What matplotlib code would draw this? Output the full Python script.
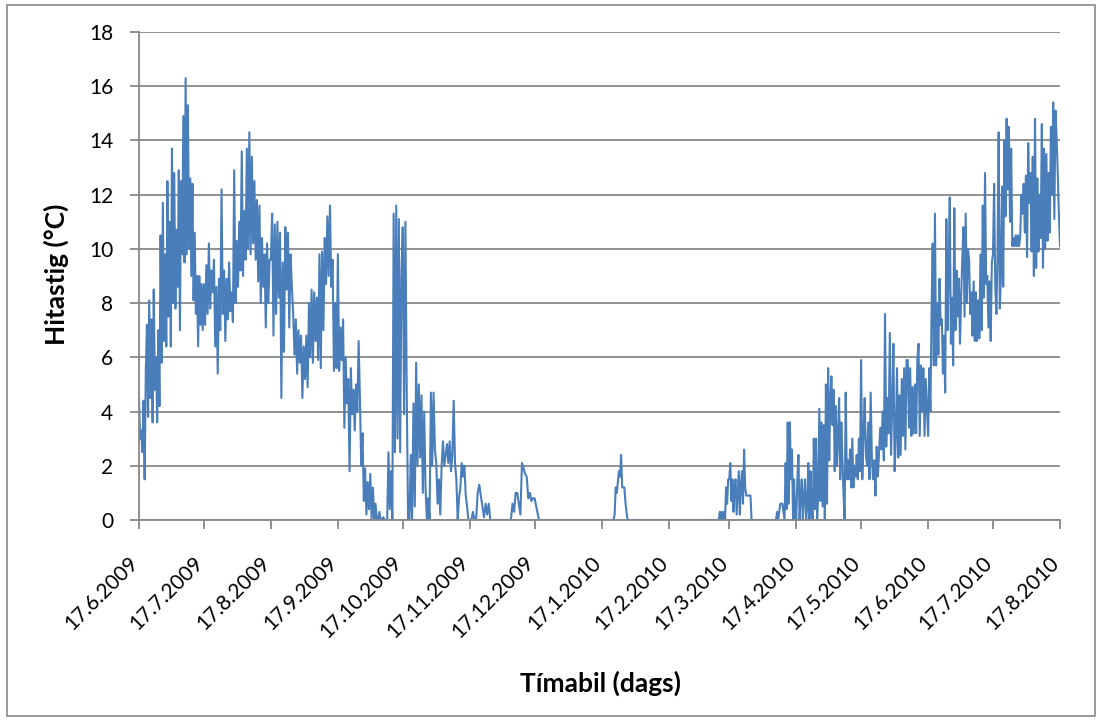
import datetime as dt
import numpy as np
import matplotlib
matplotlib.use("Agg")
import matplotlib.pyplot as plt
import matplotlib.dates as mdates
import matplotlib.transforms as mtransforms
from matplotlib.patches import Rectangle

plt.rcParams['font.family'] = ['Lato', 'DejaVu Sans']

# month boundaries (the 17th of each month)
month_starts = [dt.datetime(2009, m, 17) for m in range(6, 13)] + \
               [dt.datetime(2010, m, 17) for m in range(1, 9)]

# temperature readings per month
jun09 = [4.5, 3.0, 3.3, 2.5, 4.4, 1.5, 5.5, 7.2, 3.8, 8.1, 4.5, 7.4, 3.6, 8.5, 4.8, 6.0, 3.6, 7.0,
         4.2, 10.5, 5.8, 11.7, 6.6, 9.8, 6.4, 12.5, 7.5, 11.0, 6.4, 13.7, 8.0, 12.8, 7.8, 10.7, 8.6,
         12.9, 7.0, 12.5, 9.8, 14.9, 9.5, 16.3, 9.8, 15.3, 10.0, 12.6, 9.0, 12.4, 8.1, 10.6, 7.6,
         9.0, 6.4, 9.0, 7.2, 8.7, 7.0]
jul09 = [8.7, 7.2, 9.4, 7.6, 10.2, 7.8, 9.2, 8.4, 9.6, 6.4, 8.6, 5.4, 8.9, 7.0, 12.2, 7.6, 9.2,
         6.6, 8.9, 7.4, 9.5, 7.7, 8.4, 7.3, 12.9, 8.0, 10.3, 8.6, 11.0, 9.2, 13.6, 9.0, 11.4, 9.6,
         13.7, 10.0, 14.3, 9.8, 13.4, 10.2, 12.5, 9.6, 11.8, 8.8, 11.6, 8.0, 10.4, 8.6, 9.8, 7.1,
         10.2, 8.0, 9.6]
aug09 = [9.6, 11.3, 6.8, 10.9, 7.6, 11.0, 8.2, 10.6, 4.5, 9.5, 6.2, 10.8, 8.5, 10.6, 7.1, 9.8,
         8.6, 7.6, 6.1, 7.4, 5.4, 7.0, 5.8, 6.8, 4.5, 6.4, 5.2, 6.8, 4.9, 8.0, 6.0, 8.5, 5.8, 8.4,
         6.6, 8.2, 5.9, 9.8, 5.6, 9.9, 7.0, 10.4, 8.7, 11.2, 9.0, 11.6, 8.6, 9.6, 5.5, 8.0, 5.6]
sep09 = [9.8, 5.5, 7.1, 5.9, 7.4, 3.4, 6.0, 4.3, 5.2, 1.8, 5.6, 3.9, 4.8, 3.3, 5.0, 4.0, 6.6,
         4.5, 2.0, 3.2, 0.7, 1.9, 0.2, 1.4, 0.4, 1.7, 0.0, 1.2, 0.0, 0.6, 0.0, 0.0, 0.3, 0.0, 0.0,
         0.1, 0.0, 0.0, 0.0, 2.5, 0.4, 1.8, 0.0, 11.3, 2.5, 11.6, 3.0, 11.1, 2.5, 9.0]
oct09 = [10.8, 3.9, 11.0, 4.6, 0.0, 0.0, 2.4, 0.0, 4.3, 0.5, 5.8, 2.0, 5.0, 2.3, 4.6, 1.0, 4.0,
         1.2, 0.0, 0.8, 0.0, 4.7, 2.0, 4.7, 2.6, 2.1, 0.6, 1.5, 0.2, 2.0, 2.9, 2.0, 2.4, 2.8, 2.1,
         2.9, 1.8, 2.4, 4.4, 2.1, 1.5, 0.0, 0.8, 1.2, 2.1, 1.6, 2.0, 0.9, 0.5, 0.0]
nov09 = [0.0, 0.0, 0.3, 0.0, 0.0, 1.0, 1.3, 0.9, 0.5, 0.1, 0.6, 0.2, 0.6,
         0.0, 0.0, 0.0, 0.0, 0.0, 0.0, 0.0, 0.0, 0.0, 0.0, 0.0, 0.0, 0.0, 0.0,
         0.6, 0.3, 1.0, 1.0, 0.6, 0.2, 2.1, 1.9, 1.7, 1.6, 0.8, 1.0, 0.7, 0.8]
dec09 = [0.8, 0.4, 0.0, 0.0, 0.0, 0.0, 0.0, 0.0, 0.0, 0.0, 0.0, 0.0, 0.0, 0.0, 0.0, 0.0,
         0.0, 0.0, 0.0, 0.0, 0.0, 0.0, 0.0, 0.0, 0.0, 0.0, 0.0, 0.0, 0.0, 0.0, 0.0]
jan10 = [0.0] * 12 + [0.2, 1.2, 1.0, 1.4, 1.8, 1.6, 2.4, 1.2, 1.2, 1.2, 0.65, 0.3, 0.0] + [0.0] * 37
feb10 = [0.0] * 49 + [0.3, 0.0, 0.3, 0.0, 0.3, 0.0, 1.2, 0.6, 1.5]
mar10 = [1.5, 2.1, 0.7, 1.5, 0.3, 1.2, 1.5, 0.2, 1.0, 1.8, 0.2, 1.3, 1.8, 0.6, 2.6, 1.2, 0.9,
         0.9, 0.9, 0.9, 0.9, 0.0] + [0.0] * 23 + \
        [0.3, 0.0, 0.3, 0.6, 0.6, 0.6, 0.3, 0.0, 2.1, 0.4, 3.6, 0.6, 3.6, 1.5, 2.6, 0.0, 1.5, 0.0]
apr10 = [0.0, 1.5, 2.4, 0.0, 0.8, 1.5, 0.0, 0.9, 1.5, 0.0, 0.5, 2.1, 0.0, 1.8, 0.3, 0.0, 3.0,
         0.4, 3.0, 0.0, 0.9, 4.1, 0.7, 3.6, 0.5, 3.5, 0.0, 5.0, 0.6, 5.6, 2.2, 4.5, 5.3, 3.5, 4.8,
         1.8, 4.2, 2.0, 3.0, 4.5, 1.5, 3.6, 2.2, 1.0, 0.0, 4.7, 1.5, 2.2, 1.5, 2.6, 1.2, 3.0, 1.2,
         2.0, 1.6, 2.4, 1.5, 3.0, 1.8]
may10 = [5.9, 1.5, 3.2, 4.5, 2.4, 2.0, 3.6, 1.5, 4.7, 2.3, 1.5, 2.2, 0.9, 2.7, 1.6, 2.5, 3.4,
         2.6, 4.0, 2.2, 7.6, 2.7, 4.5, 3.2, 6.9, 2.4, 4.2, 6.5, 1.8, 3.0, 5.6, 2.3, 4.6, 2.4, 5.2,
         3.1, 5.6, 2.6, 5.9, 5.9, 3.4, 5.6, 3.1, 4.9, 3.2, 5.0, 3.2, 5.9, 6.5, 3.1, 5.7, 4.0, 5.6,
         3.1, 5.2, 4.1]
jun10 = [3.1, 5.6, 4.0, 7.6, 10.2, 5.7, 11.3, 5.7, 8.0, 6.1, 8.9, 7.2, 7.4, 5.4, 6.8, 4.7,
         11.1, 7.0, 9.0, 11.9, 6.5, 8.2, 5.7, 11.5, 7.0, 9.2, 7.5, 8.9, 6.5, 8.2, 9.6, 10.8, 7.5,
         11.3, 8.0, 10.0, 9.6, 7.6, 8.4, 6.8, 8.8, 6.6, 8.4, 6.6, 8.1, 6.7, 9.8, 7.0, 11.6, 8.2,
         12.8, 8.7, 9.0, 7.1, 8.8, 6.6, 9.5]
jul10 = [9.8, 12.4, 8.6, 7.6, 9.8, 14.3, 7.8, 9.0, 12.3, 8.6, 14.0, 11.2, 14.8, 12.2, 14.5,
         11.0, 13.7, 10.1, 10.4, 10.1, 10.5, 10.1, 10.5, 10.1, 10.5, 12.0, 11.3, 12.4, 10.6, 12.7,
         9.7, 13.9, 11.7, 12.8, 9.9, 13.4, 9.0, 14.8, 9.3, 12.6, 9.9, 12.0, 10.4, 14.6, 9.3, 13.7,
         10.0, 13.5, 10.3, 12.8, 10.6, 14.5, 12.0, 15.4, 11.1, 15.1, 14.1, 12.8, 11.3, 10.1]

chunks = [jun09, jul09, aug09, sep09, oct09, nov09, dec09, jan10, feb10,
          mar10, apr10, may10, jun10, jul10]

# spread each month's readings over its month
times = []
temps = []
for k, vals in enumerate(chunks):
    t0 = mdates.date2num(month_starts[k])
    t1 = mdates.date2num(month_starts[k + 1])
    last = k == len(chunks) - 1
    times.extend(np.linspace(t0, t1, len(vals), endpoint=last))
    temps.extend(vals)

fig = plt.figure(figsize=(11.02, 7.24), dpi=100)
ax = fig.add_axes([0.1261, 0.2818, 0.8358, 0.6740])

ax.plot(times, temps, color='#4A7EBB', lw=1.5)

ax.set_xlim(mdates.date2num(month_starts[0]), mdates.date2num(month_starts[-1]))
ax.set_ylim(0, 18)
ax.set_yticks(range(0, 19, 2))
ax.xaxis.set_major_locator(mdates.MonthLocator(bymonthday=17))
ax.xaxis.set_major_formatter(plt.FuncFormatter(
    lambda x, pos: "{0.day}.{0.month}.{0.year}".format(mdates.num2date(x))))

grid_col = '#888888'
ax.grid(axis='y', color=grid_col, lw=1.3)
ax.set_axisbelow(True)
for s in ['top', 'right']:
    ax.spines[s].set_visible(False)
for s in ['left', 'bottom']:
    ax.spines[s].set_color(grid_col)
    ax.spines[s].set_linewidth(1.3)
ax.tick_params(axis='both', colors=grid_col, width=1.3, length=6.5, labelcolor='black',
               labelsize=15)
ax.tick_params(axis='y', pad=12)
ax.tick_params(axis='x', pad=22)
shift = mtransforms.ScaledTranslation(-4 / 100, 0, fig.dpi_scale_trans)
for lab in ax.get_xticklabels():
    lab.set_rotation(45)
    lab.set_ha('right')
    lab.set_va('center')
    lab.set_rotation_mode('anchor')
    lab.set_transform(lab.get_transform() + shift)

fig.text(56 / 1102, 0.6215, 'Hitastig (°C)', fontsize=19, fontweight='bold',
         rotation=90, ha='center', va='center')
fig.text(601 / 1102, 0.0566, 'Tímabil (dags)', fontsize=19, fontweight='bold',
         ha='center', va='center')

# outer chart border
fig.patches.append(Rectangle((7 / 1102, 8 / 724), 1088 / 1102, 711 / 724,
                             transform=fig.transFigure, fill=False, edgecolor='#888888', lw=1.2))

fig.savefig('out.png', dpi=100)
